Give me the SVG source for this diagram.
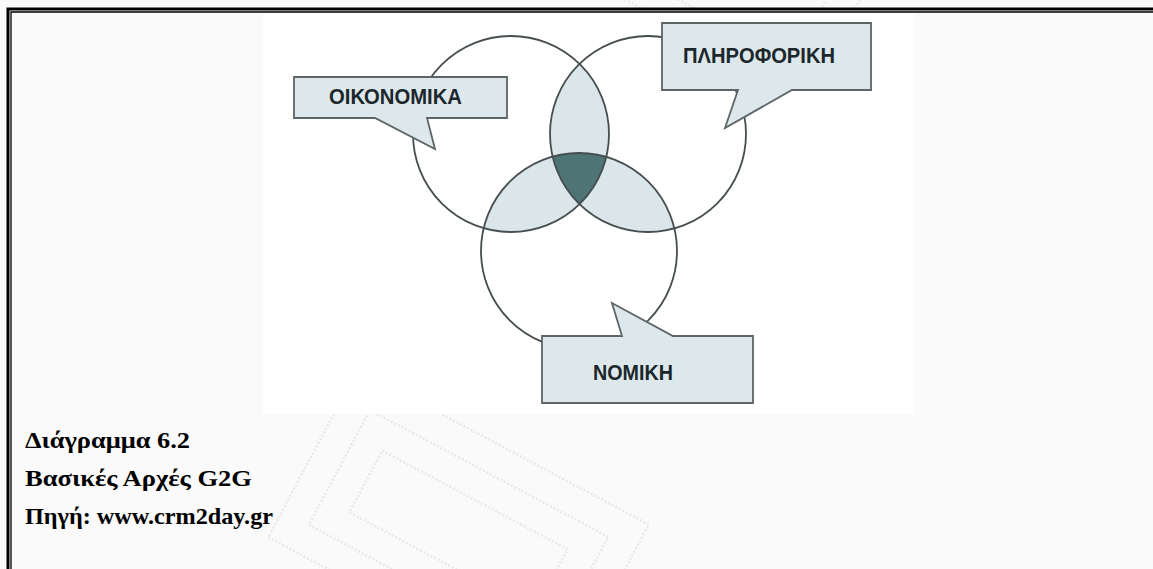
<svg xmlns="http://www.w3.org/2000/svg" width="1153" height="569" viewBox="0 0 1153 569">
  <style>
    .ring { fill: none; stroke: #474e50; stroke-width: 1.8; }
    .pair { fill: #dae6ea; stroke: none; }
    .core { fill: #4e7476; stroke: none; }
    .callout { fill: #dde8ec; stroke: #5d6567; stroke-width: 1.8; stroke-linejoin: miter; }
    .label { font-family: "Liberation Sans", Arial, sans-serif; font-weight: bold; font-size: 22px; fill: #1c272b; }
    .caption { font-family: "Liberation Serif", "Times New Roman", serif; font-weight: bold; font-size: 24px; fill: #000; }
    .mark { fill: none; stroke: #e9e9e9; stroke-width: 2.5; stroke-dasharray: 2 2; }
  </style>
  <defs>
    <clipPath id="clipLeft"><circle cx="511" cy="134" r="98"/></clipPath>
    <clipPath id="clipRight"><circle cx="648" cy="134" r="98"/></clipPath>
  </defs>

  <!-- page -->
  <rect x="0" y="0" width="1153" height="569" fill="#fafafa"/>

  <!-- faint page watermark -->
  <g id="watermark">
    <g transform="rotate(28 470 520)">
      <rect class="mark" x="300" y="440" width="330" height="190"/>
      <rect class="mark" x="330" y="470" width="270" height="130"/>
      <rect class="mark" x="360" y="500" width="210" height="70"/>
    </g>
    <g transform="rotate(28 700 -40)">
      <rect class="mark" x="560" y="-120" width="300" height="150"/>
      <rect class="mark" x="590" y="-90" width="240" height="95"/>
    </g>
  </g>

  <!-- double page border (thick outer, thin inner) -->
  <g id="border" stroke="#000" fill="none">
    <path d="M8,569 V9 H1153" stroke-width="3"/>
    <path d="M11,569 V12 H1153" stroke-width="1.3"/>
  </g>

  <!-- white figure area -->
  <rect x="263" y="13" width="651" height="401" fill="#ffffff"/>

  <!-- Venn diagram -->
  <g id="venn">
    <g id="overlaps">
      <g clip-path="url(#clipLeft)">
        <circle class="pair" cx="648" cy="134" r="98"/>
        <circle class="pair" cx="579" cy="251" r="98"/>
      </g>
      <g clip-path="url(#clipRight)">
        <circle class="pair" cx="579" cy="251" r="98"/>
      </g>
      <g clip-path="url(#clipLeft)">
        <g clip-path="url(#clipRight)">
          <circle class="core" cx="579" cy="251" r="98"/>
        </g>
      </g>
    </g>
    <g id="rings">
      <circle class="ring" cx="511" cy="134" r="98"/>
      <circle class="ring" cx="648" cy="134" r="98"/>
      <circle class="ring" cx="579" cy="251" r="98"/>
    </g>
  </g>

  <!-- callout labels -->
  <g id="node-oikonomika">
    <path class="callout" d="M294,77 H507 V118 H427 L435,149 L375,118 H294 Z"/>
    <text class="label" x="329" y="104" textLength="133" lengthAdjust="spacingAndGlyphs">ΟΙΚΟΝΟΜΙΚΑ</text>
  </g>
  <g id="node-pliroforiki">
    <path class="callout" d="M662,23 H871 V90 H792 L725,128 L738,90 H662 Z"/>
    <text class="label" x="683" y="63" textLength="152" lengthAdjust="spacingAndGlyphs">ΠΛΗΡΟΦΟΡΙΚΗ</text>
  </g>
  <g id="node-nomiki">
    <path class="callout" d="M542,336 H622 L612,303 L673,336 H753 V403 H542 Z"/>
    <text class="label" x="593" y="380" textLength="80" lengthAdjust="spacingAndGlyphs">ΝΟΜΙΚΗ</text>
  </g>

  <!-- caption -->
  <g id="caption">
    <text class="caption" x="25" y="448" textLength="165" lengthAdjust="spacingAndGlyphs">Διάγραμμα 6.2</text>
    <text class="caption" x="25" y="486" textLength="227" lengthAdjust="spacingAndGlyphs">Βασικές Αρχές G2G</text>
    <text class="caption" x="25" y="524" textLength="248" lengthAdjust="spacingAndGlyphs">Πηγή: www.crm2day.gr</text>
  </g>
</svg>
